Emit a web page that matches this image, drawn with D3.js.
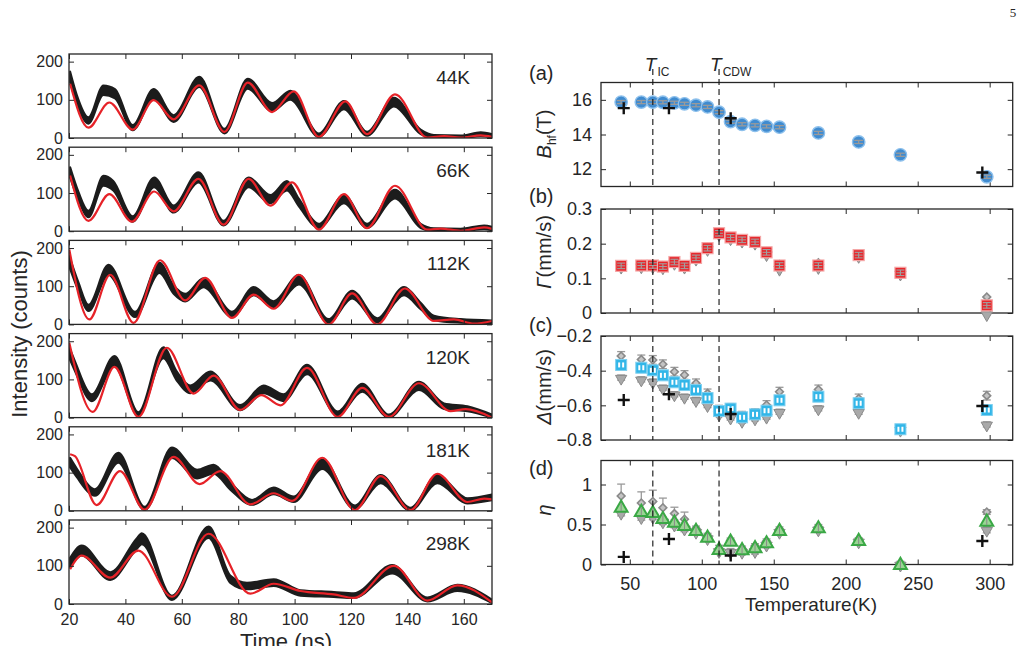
<!DOCTYPE html>
<html><head><meta charset="utf-8">
<script src="https://cdn.jsdelivr.net/npm/d3@7"></script>
<style>
body{margin:0;background:#fff}
text{font-family:Arial,"Liberation Sans",Helvetica,sans-serif;fill:#262626}
</style></head>
<body><svg id="c" width="1026" height="646"></svg>
<script>
// ---------------- LEFT: time spectra ----------------
const spectraLabels = ["44K","66K","112K","120K","181K","298K"];
const timeTicks = [20,40,60,80,100,120,140,160];
const countTicks = [0,100,200];

const fitT_44 = [20.4,26.9,34.3,42.6,50.0,57.1,66.2,75.1,83.4,92.0,99.7,108.6,118.0,125.7,135.6,147.1,153.0,158.9,166.0,170];
const fitC_44 = [142,27,93,22,99,49,138,16,145,68,122,3,96,10,114,1,5,1,7,3];
const datT_44 = [20.4,22.7,26.9,32.2,36.3,42.6,50.0,57.1,66.2,75.1,83.4,92.0,98.5,108.6,117.5,125.7,135.2,144.7,149.4,158.9,166.0,170];
const datC_44 = [160,103,46,125,116,27,116,51,147,18,142,81,112,7,86,11,94,16,4,3,10,6];

const fitT_66 = [20.4,26.9,34.3,42.3,50.2,57.1,65.9,74.8,83.7,91.4,99.1,108.6,117.5,125.7,135.6,147.1,151.8,158.9,167.2,170];
const fitC_66 = [146,27,97,25,104,52,137,17,137,67,128,4,97,8,119,4,7,1,10,6];
const datT_66 = [20.4,23.3,26.9,32.2,35.7,42.6,50.2,57.1,65.9,74.8,83.7,91.4,97.3,101.5,108.6,117.5,125.7,135.6,144.7,149.4,158.9,167.2,170];
const datC_66 = [154,93,45,132,119,32,128,58,141,21,128,84,119,75,14,84,14,97,14,4,3,10,7];

const fitT_112 = [20.1,27.2,34.6,42.9,52.3,61.2,68.3,77.8,85.5,92.6,101.5,112.1,120.4,129.3,139.1,149.4,156.5,163.6,170];
const fitC_112 = [196,13,130,4,168,63,122,17,78,41,130,0,81,0,94,9,13,2,9];
const datT_112 = [20.1,23.3,26.9,34.0,43.4,52.1,57.1,61.2,67.7,77.8,85.5,92.6,101.5,112.1,120.4,129.3,138.8,144.7,149.4,158.9,170];
const datC_112 = [165,100,43,143,26,148,91,70,109,26,87,52,117,9,78,11,87,48,17,9,6];

const fitT_120 = [20.1,28.4,36.1,44.6,54.7,64.2,71.3,80.7,88.2,95.0,104.4,115.3,124.0,133.4,144.1,155.3,160.7,170];
const fitC_120 = [196,15,133,2,183,63,110,20,59,32,130,2,78,2,90,17,22,0];
const datT_120 = [20.1,22.1,28.1,36.1,44.6,53.5,58.2,63.0,70.1,80.7,89.0,96.1,104.4,115.3,124.0,133.4,144.1,153.0,161.3,170];
const datC_120 = [170,135,52,148,9,170,109,74,109,26,74,52,126,11,78,4,83,30,23,4];

const fitT_181 = [20.4,22.1,29.8,38.1,46.8,57.1,66.3,73.6,84.3,92.6,99.1,109.8,121.4,130.5,141.1,150.6,161.3,167.2,170];
const fitC_181 = [148,143,15,104,3,141,70,104,17,46,26,139,2,91,2,97,23,32,30];
const datT_181 = [20.4,22.7,29.2,37.5,46.8,56.5,65.4,71.3,77.2,84.9,92.6,99.7,109.8,121.4,130.5,141.1,150.6,161.3,170];
const datC_181 = [126,100,48,139,6,152,96,109,65,22,52,30,122,9,83,4,83,26,35];

const fitT_298 = [20.4,24.5,34.6,44.6,56.5,69.5,84.3,92.6,102.1,113.9,121.0,135.2,147.1,157.7,170];
const fitC_298 = [91,127,69,140,19,184,27,53,34,25,16,100,9,49,4];
const datT_298 = [20.4,24.5,34.6,44.0,45.8,56.5,69.5,77.2,83.1,92.6,102.1,113.9,121.0,134.6,147.1,157.7,170];
const datC_298 = [109,140,73,158,171,16,188,65,47,56,29,25,22,91,12,42,7];

const spectra = [
  {label:spectraLabels[0], fitT:fitT_44, fitC:fitC_44, datT:datT_44, datC:datC_44},
  {label:spectraLabels[1], fitT:fitT_66, fitC:fitC_66, datT:datT_66, datC:datC_66},
  {label:spectraLabels[2], fitT:fitT_112, fitC:fitC_112, datT:datT_112, datC:datC_112},
  {label:spectraLabels[3], fitT:fitT_120, fitC:fitC_120, datT:datT_120, datC:datC_120},
  {label:spectraLabels[4], fitT:fitT_181, fitC:fitC_181, datT:datT_181, datC:datC_181},
  {label:spectraLabels[5], fitT:fitT_298, fitC:fitC_298, datT:datT_298, datC:datC_298}
];

// ---------------- RIGHT: parameters vs temperature ----------------
const temps = [44,58,66,73,81,88,96,104,112,120,128,137,145,154,181,209,238,298];
const bhf   = [15.87,15.87,15.87,15.86,15.83,15.77,15.69,15.59,15.29,14.74,14.59,14.53,14.47,14.42,14.09,13.57,12.83,11.56];
const gamma = [0.136,0.137,0.137,0.134,0.147,0.136,0.159,0.187,0.230,0.218,0.211,0.205,0.175,0.137,0.137,0.167,0.116,0.022];
const gammaHi = [0.138,0.139,0.139,0.136,0.149,0.138,0.161,0.189,0.232,0.220,0.213,0.207,0.177,0.140,0.145,0.169,0.118,0.046];
const gammaLo = [0.134,0.135,0.135,0.132,0.145,0.134,0.157,0.185,0.228,0.216,0.209,0.203,0.170,0.128,0.133,0.165,0.114,-0.003];
const delta = [-0.367,-0.383,-0.398,-0.427,-0.467,-0.483,-0.512,-0.558,-0.633,-0.619,-0.669,-0.652,-0.631,-0.571,-0.550,-0.588,-0.738,-0.627];
const deltaHi = [-0.315,-0.335,-0.338,-0.363,-0.406,-0.425,-0.473,-0.531,-0.625,-0.615,-0.660,-0.645,-0.598,-0.521,-0.508,-0.560,-0.738,-0.544];
const deltaLo = [-0.440,-0.450,-0.463,-0.498,-0.536,-0.550,-0.569,-0.598,-0.650,-0.670,-0.689,-0.675,-0.665,-0.637,-0.617,-0.637,-0.740,-0.710];
const eta   = [0.718,0.665,0.652,0.577,0.531,0.490,0.428,0.344,0.191,0.294,0.187,0.212,0.274,0.428,0.461,0.303,0.004,0.544];
const etaHi = [0.855,0.768,0.789,0.710,0.636,0.565,0.450,0.360,0.200,0.300,0.200,0.230,0.290,0.440,0.470,0.310,0.010,0.656];
const etaHiErr = [0.15,0.14,0.14,0.12,0.08,0.09,0.03,0.03,0.04,0.03,0.03,0.03,0.03,0.03,0.03,0.02,0.02,0.03];
const etaLo = [0.648,0.594,0.600,0.540,0.500,0.450,0.410,0.330,0.170,0.160,0.160,0.170,0.250,0.410,0.440,0.290,0.000,0.436];
const plusT = [45.8,77.2,120.1,294.9];
const plusB = [15.52,15.52,14.94,11.81];
const plusDelta = [-0.569,-0.536,-0.650,-0.604];
const plusEta = [0.095,0.319,0.112,0.294];
const tIC = 66, tCDW = 112;
const tempTicks = [50,100,150,200,250,300];

// ---------------- drawing ----------------
const svg = d3.select("#c");
const frameColor = "#262626";
const defs = svg.append("defs");

function frameAxes(g, x, y, xt, yt, showX, fs, padY, padX){
  const [x0,x1] = x.range(); const [y0,y1] = y.range();
  const ax = (gen, tr) => g.append("g").attr("transform", tr).call(gen)
      .call(s=>{s.select(".domain").remove(); s.selectAll("line").attr("stroke",frameColor);
               s.selectAll("text").attr("font-size",fs).attr("fill",frameColor).attr("font-family","Arial, 'Liberation Sans', sans-serif");});
  ax(d3.axisLeft(y).tickValues(yt).tickSize(-5).tickPadding(padY).tickFormat(d3.format("")), `translate(${x0},0)`);
  ax(d3.axisRight(y).tickValues(yt).tickSize(-5).tickFormat(""), `translate(${x1},0)`);
  ax(d3.axisBottom(x).tickValues(xt).tickSize(-5).tickPadding(padX).tickFormat(showX? d3.format(""): ""), `translate(0,${y0})`);
  ax(d3.axisTop(x).tickValues(xt).tickSize(-5).tickFormat(""), `translate(0,${y1})`);
  g.append("rect").attr("x",x0).attr("y",y1).attr("width",x1-x0).attr("height",y0-y1)
    .attr("fill","none").attr("stroke",frameColor).attr("stroke-width",1.3);
}

// left panels
const xL = d3.scaleLinear().domain([20,170]).range([69,492]);
spectra.forEach((p,i)=>{
  const top = 54 + i*93.2, h = 84;
  const y = d3.scaleLinear().domain([0,220]).range([top+h, top]);
  const g = svg.append("g");
  const cid = "clipL"+i;
  defs.append("clipPath").attr("id",cid).append("rect")
    .attr("x",xL.range()[0]).attr("y",top).attr("width",xL.range()[1]-xL.range()[0]).attr("height",h);
  const pts = p.datT.map((t,k)=>({t, c:p.datC[k]}));
  const hw = c => 0.95*Math.sqrt(Math.max(c,0)) + 2;
  const band = d3.area().curve(d3.curveMonotoneX)
    .x(d=>xL(d.t)).y0(d=>y(d.c - hw(d.c))).y1(d=>y(d.c + hw(d.c)));
  g.append("path").attr("clip-path",`url(#${cid})`).attr("d",band(pts))
    .attr("fill","#1c1c1c").attr("stroke","#1c1c1c").attr("stroke-width",2).attr("stroke-linejoin","round");
  const fit = p.fitT.map((t,k)=>({t, c:p.fitC[k]}));
  g.append("path").attr("clip-path",`url(#${cid})`)
    .attr("d", d3.line().curve(d3.curveMonotoneX).x(d=>xL(d.t)).y(d=>y(d.c))(fit))
    .attr("fill","none").attr("stroke","#e62228").attr("stroke-width",2.2);
  frameAxes(g, xL, y, timeTicks, countTicks, i===5, 16, 6, 10);
  g.append("text").attr("x",470).attr("y",top+30).attr("text-anchor","end")
    .attr("font-size",19).text(p.label);
});
svg.append("text").attr("transform","translate(27,334) rotate(-90)").attr("text-anchor","middle")
  .attr("font-size",22).text("Intensity (counts)");
svg.append("text").attr("x",286).attr("y",649).attr("text-anchor","middle")
  .attr("font-size",22).text("Time (ns)");

// right panels
const xR = d3.scaleLinear().domain([30,316]).range([601,1012.7]);
const rTops = [82.5, 209, 336, 460.5], rH = 104;
const panelsR = [
  {dom:[11,17], ticks:[12,14,16], letter:"(a)", lb:80},
  {dom:[0,0.3], ticks:[0,0.1,0.2,0.3], letter:"(b)", lb:203},
  {dom:[-0.8,-0.2], ticks:[-0.8,-0.6,-0.4,-0.2], letter:"(c)", lb:332},
  {dom:[0,1.3], ticks:[0,0.5,1], letter:"(d)", lb:475}
];
const yR = panelsR.map((p,i)=>d3.scaleLinear().domain(p.dom).range([rTops[i]+rH, rTops[i]]));

const sym = (type,size)=>d3.symbol().type(type).size(size)();
const grayFill = "#a9a9a9", grayStroke = "#8a8a8a";

function errbar(g, x, y, v, e, color, cap, w){
  const yy1 = y(v - e), yy2 = y(v + e);
  g.append("line").attr("x1",x).attr("x2",x).attr("y1",yy1).attr("y2",yy2).attr("stroke",color).attr("stroke-width",w||1.2);
  [yy1,yy2].forEach(yy=>g.append("line").attr("x1",x-cap).attr("x2",x+cap).attr("y1",yy).attr("y2",yy).attr("stroke",color).attr("stroke-width",w||1.2));
}
function diamond(g, x, y){
  g.append("path").attr("d",sym(d3.symbolSquare,30)).attr("transform",`translate(${x},${y}) rotate(45)`)
    .attr("fill","#c4c4c4").attr("stroke",grayStroke).attr("stroke-width",1.6);
}
function triDown(g, x, y){
  g.append("path").attr("d",sym(d3.symbolTriangle,55)).attr("transform",`translate(${x},${y+1}) rotate(180)`)
    .attr("fill",grayFill).attr("stroke",grayStroke).attr("stroke-width",1);
}
function plus(g, x, y){
  g.append("path").attr("d",`M${x-6},${y}H${x+6}M${x},${y-6}V${y+6}`).attr("stroke","#111").attr("stroke-width",2.4);
}

panelsR.forEach((p,i)=>{
  const g = svg.append("g");
  const y = yR[i];
  frameAxes(g, xR, y, tempTicks, p.ticks, i===3, 18, 9, 13);
  g.append("text").attr("x",529).attr("y",p.lb).attr("font-size",20).text(p.letter);
});

// (a)
{
  const g = svg.append("g"), y = yR[0];
  temps.forEach((t,k)=>{
    g.append("circle").attr("cx",xR(t)).attr("cy",y(bhf[k])).attr("r",6.2)
      .attr("fill","#3f8bd0").attr("stroke","#8dc0ec").attr("stroke-width",1.4);
    errbar(g, xR(t), y, bhf[k], 0.09, "#9a9a9a", 4.5, 1.3);
  });
  plusT.forEach((t,k)=>plus(g, xR(t), y(plusB[k])));
}
// (b)
{
  const g = svg.append("g"), y = yR[1];
  temps.forEach((t,k)=>{ diamond(g, xR(t), y(gammaHi[k])); triDown(g, xR(t), y(gammaLo[k])); });
  temps.forEach((t,k)=>{
    g.append("rect").attr("x",xR(t)-5.5).attr("y",y(gamma[k])-5.5).attr("width",11).attr("height",11)
      .attr("fill","#e8262b").attr("stroke","#f4a6a6").attr("stroke-width",1.2);
    errbar(g, xR(t), y, gamma[k], 0.008, "#a0a0a0", 4, 1.1);
    g.append("line").attr("x1",xR(t)-4).attr("x2",xR(t)+4).attr("y1",y(gamma[k])).attr("y2",y(gamma[k])).attr("stroke","#a0a0a0").attr("stroke-width",1);
  });
}
// (c)
{
  const g = svg.append("g"), y = yR[2];
  temps.forEach((t,k)=>{
    errbar(g, xR(t), y, deltaHi[k], 0.025, "#9a9a9a", 4, 1.3);
    diamond(g, xR(t), y(deltaHi[k]));
    errbar(g, xR(t), y, deltaLo[k], 0.015, "#9a9a9a", 4, 1.3);
    triDown(g, xR(t), y(deltaLo[k]));
  });
  temps.forEach((t,k)=>{
    const cx = xR(t), cy = y(delta[k]);
    g.append("rect").attr("x",cx-5.5).attr("y",cy-5.5).attr("width",11).attr("height",11)
      .attr("fill","#32b6e8").attr("stroke","#7fd0f0").attr("stroke-width",1);
    g.append("rect").attr("x",cx-3).attr("y",cy-2.5).attr("width",2).attr("height",5).attr("fill","#fff");
    g.append("rect").attr("x",cx+1).attr("y",cy-2.5).attr("width",2).attr("height",5).attr("fill","#fff");
  });
  plusT.forEach((t,k)=>plus(g, xR(t), y(plusDelta[k])));
}
// (d)
{
  const g = svg.append("g"), y = yR[3];
  temps.forEach((t,k)=>{
    errbar(g, xR(t), y, etaHi[k], etaHiErr[k], "#9a9a9a", 4, 1.3);
    diamond(g, xR(t), y(etaHi[k]));
    errbar(g, xR(t), y, etaLo[k], 0.04, "#9a9a9a", 4, 1.3);
    triDown(g, xR(t), y(etaLo[k]));
  });
  temps.forEach((t,k)=>{
    g.append("path").attr("d",sym(d3.symbolTriangle,72)).attr("transform",`translate(${xR(t)},${y(eta[k])+1})`)
      .attr("fill","#9ad594").attr("stroke","#3aa845").attr("stroke-width",2);
    g.append("line").attr("x1",xR(t)).attr("x2",xR(t)).attr("y1",y(eta[k])-4).attr("y2",y(eta[k])+4).attr("stroke","#8a8a8a").attr("stroke-width",1);
  });
  plusT.forEach((t,k)=>plus(g, xR(t), y(plusEta[k])));
}

// dashed transition lines
[tIC, tCDW].forEach(t=>{
  rTops.forEach((tp,i)=>{
    svg.append("line").attr("x1",xR(t)).attr("x2",xR(t))
      .attr("y1", i===0 ? 69 : tp).attr("y2", tp+rH)
      .attr("stroke","#111").attr("stroke-width",1.1).attr("stroke-dasharray","6,4");
  });
});
// T labels
function tLabel(x, sub){
  const t = svg.append("text").attr("x",x).attr("y",71).attr("font-size",19);
  t.append("tspan").attr("font-style","italic").text("T");
  t.append("tspan").attr("font-size",12).attr("dy",5).attr("dx",1).text(sub);
}
tLabel(xR(tIC)-8, "IC");
tLabel(xR(tCDW)-9, "CDW");

// y labels right
function yLab(yc, parts){
  const t = svg.append("text").attr("transform",`translate(551,${yc}) rotate(-90)`).attr("text-anchor","middle").attr("font-size",20);
  parts.forEach(p=>{ const s=t.append("tspan").text(p.t); if(p.it) s.attr("font-style","italic"); if(p.sub) s.attr("font-size",12).attr("dy",5); if(p.up) s.attr("dy",-5); });
}
yLab(134, [{t:"B",it:true},{t:"hf",sub:true},{t:"(T)",up:true}]);
yLab(252, [{t:"Γ",it:true},{t:"(mm/s)"}]);
yLab(387, [{t:"Δ",it:true},{t:"(mm/s)"}]);
yLab(510, [{t:"η",it:true}]);

svg.append("text").attr("x",811).attr("y",611).attr("text-anchor","middle").attr("font-size",19).text("Temperature(K)");
svg.append("text").attr("x",1013).attr("y",17).attr("text-anchor","middle").attr("font-size",13)
  .style("font-family","'Liberation Serif','DejaVu Serif',serif").text("5");
</script></body></html>
